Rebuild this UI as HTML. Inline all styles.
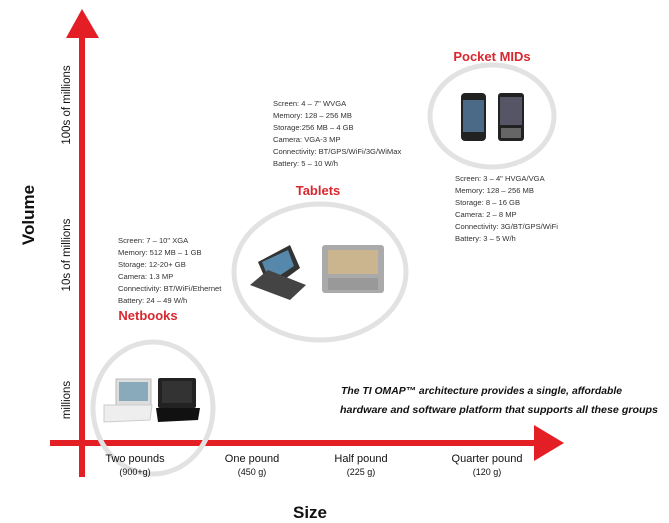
<!DOCTYPE html>
<html><head><meta charset="utf-8"><style>
html,body{margin:0;padding:0;background:#fff;}
svg{display:block;}
.s{font-family:"Liberation Sans",sans-serif;font-size:7.6px;fill:#333;}
.t{font-family:"Liberation Sans",sans-serif;font-size:13px;font-weight:bold;fill:#d8282f;}
.ax{font-family:"Liberation Sans",sans-serif;font-size:11px;fill:#111;}
.ax2{font-family:"Liberation Sans",sans-serif;font-size:9px;fill:#111;}
.vl{font-family:"Liberation Sans",sans-serif;font-size:11.5px;fill:#111;}
</style></head><body>
<svg width="669" height="523" viewBox="0 0 669 523" xmlns="http://www.w3.org/2000/svg">
<rect x="79" y="36" width="6" height="441" fill="#e31e25"/>
<polygon points="82,9 66,38 99,38" fill="#e31e25"/>
<rect x="50" y="440" width="485" height="6" fill="#e31e25"/>
<polygon points="564,443 534,425 534,461" fill="#e31e25"/>
<ellipse cx="153" cy="408" rx="60" ry="66" fill="none" stroke="#e2e2e2" stroke-width="5"/>
<ellipse cx="320" cy="272" rx="86" ry="68" fill="none" stroke="#e2e2e2" stroke-width="5"/>
<ellipse cx="492" cy="116" rx="62" ry="51" fill="none" stroke="#e2e2e2" stroke-width="5"/>
<rect x="116" y="379" width="35" height="26" fill="#ddd" stroke="#bbb"/>
<rect x="119" y="382" width="29" height="19" fill="#8ab"/>
<polygon points="104,405 152,405 150,420 104,422" fill="#eee" stroke="#ccc"/>
<rect x="158" y="378" width="38" height="30" rx="2" fill="#222"/>
<rect x="162" y="381" width="30" height="22" fill="#333"/>
<polygon points="156,408 200,408 198,420 158,422" fill="#111"/>
<polygon points="258,262 290,245 300,268 270,290" fill="#333"/>
<polygon points="262,262 288,250 294,266 270,282" fill="#58a"/>
<polygon points="250,285 268,270 306,285 290,300" fill="#444"/>
<rect x="322" y="245" width="62" height="48" rx="3" fill="#aaa"/>
<rect x="328" y="250" width="50" height="24" fill="#cbb58f"/>
<rect x="328" y="278" width="50" height="12" fill="#999"/>
<rect x="461" y="93" width="25" height="48" rx="4" fill="#222"/>
<rect x="463" y="100" width="21" height="32" fill="#4a6a88"/>
<rect x="498" y="93" width="26" height="48" rx="3" fill="#222"/>
<rect x="500" y="97" width="22" height="28" fill="#556"/>
<rect x="501" y="128" width="20" height="10" fill="#666"/>
<text class="t" x="492" y="61" text-anchor="middle">Pocket MIDs</text>
<text class="t" x="318" y="195" text-anchor="middle">Tablets</text>
<text class="t" x="148" y="320" text-anchor="middle">Netbooks</text>
<g class="s">
<text x="273" y="106">Screen: 4 – 7" WVGA</text>
<text x="273" y="118">Memory: 128 – 256 MB</text>
<text x="273" y="130">Storage:256 MB – 4 GB</text>
<text x="273" y="142">Camera: VGA-3 MP</text>
<text x="273" y="154">Connectivity: BT/GPS/WiFi/3G/WiMax</text>
<text x="273" y="166">Battery: 5 – 10 W/h</text>
<text x="455" y="181">Screen: 3 – 4" HVGA/VGA</text>
<text x="455" y="193">Memory: 128 – 256 MB</text>
<text x="455" y="205">Storage: 8 – 16 GB</text>
<text x="455" y="217">Camera: 2 – 8 MP</text>
<text x="455" y="229">Connectivity: 3G/BT/GPS/WiFi</text>
<text x="455" y="241">Battery: 3 – 5 W/h</text>
<text x="118" y="243">Screen: 7 – 10" XGA</text>
<text x="118" y="255">Memory: 512 MB – 1 GB</text>
<text x="118" y="267">Storage: 12-20+ GB</text>
<text x="118" y="279">Camera: 1.3 MP</text>
<text x="118" y="291">Connectivity: BT/WiFi/Ethernet</text>
<text x="118" y="303">Battery: 24 – 49 W/h</text>
</g>
<text class="vl" transform="translate(70,105) rotate(-90)" text-anchor="middle">100s of millions</text>
<text class="vl" transform="translate(70,255) rotate(-90)" text-anchor="middle">10s of millions</text>
<text class="vl" transform="translate(70,400) rotate(-90)" text-anchor="middle">millions</text>
<text transform="translate(34,215) rotate(-90)" text-anchor="middle" font-family="Liberation Sans, sans-serif" font-size="17" font-weight="bold" fill="#111">Volume</text>
<g text-anchor="middle">
<text class="ax" x="135" y="462">Two pounds</text><text class="ax2" x="135" y="475">(900+g)</text>
<text class="ax" x="252" y="462">One pound</text><text class="ax2" x="252" y="475">(450 g)</text>
<text class="ax" x="361" y="462">Half pound</text><text class="ax2" x="361" y="475">(225 g)</text>
<text class="ax" x="487" y="462">Quarter pound</text><text class="ax2" x="487" y="475">(120 g)</text>
<text x="310" y="518" font-family="Liberation Sans, sans-serif" font-size="17" font-weight="bold" fill="#111">Size</text>
</g>
<g font-family="Liberation Sans, sans-serif" font-size="10" font-style="italic" font-weight="bold" fill="#111">
<text x="341" y="394" textLength="281" lengthAdjust="spacingAndGlyphs">The TI OMAP™ architecture provides a single, affordable</text>
<text x="340" y="413" textLength="318" lengthAdjust="spacingAndGlyphs">hardware and software platform that supports all these groups</text>
</g>
</svg>
</body></html>
